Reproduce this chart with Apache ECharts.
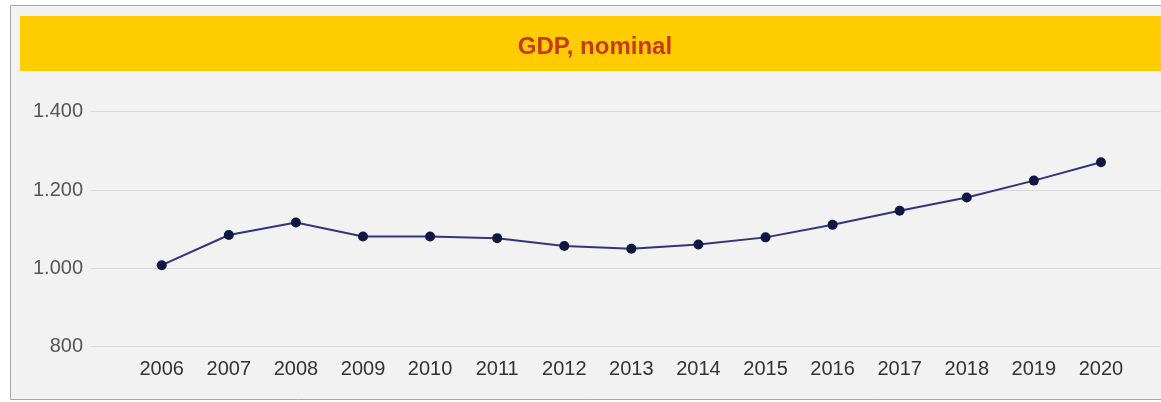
<!DOCTYPE html>
<html>
<head>
<meta charset="utf-8">
<script src="https://cdn.jsdelivr.net/npm/echarts@6/dist/echarts.min.js"></script>
<style>
  html, body { margin: 0; padding: 0; background: #fff; }
  #chart { width: 1161px; height: 402px; }
</style>
</head>
<body>
<div id="chart"></div>
<script>
const years = ['2006', '2007', '2008', '2009', '2010', '2011', '2012', '2013',
  '2014', '2015', '2016', '2017', '2018', '2019', '2020'];
const gdpNominal = [1008, 1085, 1117, 1081, 1081, 1077, 1057, 1050,
  1061, 1079, 1111, 1147, 1181, 1224, 1271];
const yMin = 800;
const yMax = 1400;
const yStep = 200;

const font = '"Liberation Sans", Arial, sans-serif';

// thousands with a dot, e.g. 1.400
const fmtNum = (v) => {
  if (v < 1000) return String(v);
  const rest = String(v % 1000).padStart(3, '0');
  return `${Math.floor(v / 1000)}.${rest}`;
};

const chart = echarts.init(document.getElementById('chart'));

const gridTop = 111.7;
const gridBottom = 55.4;

const opts = {
  animation: false,
  textStyle: { fontFamily: font },
  graphic: [
    {
      type: 'rect',
      z: -10,
      shape: { x: 10.5, y: 5.5, width: 1160, height: 394 },
      style: { fill: '#f2f2f2', stroke: '#a8a8a8', lineWidth: 1 },
    },
    {
      type: 'rect',
      z: -9,
      shape: { x: 20, y: 16, width: 1141, height: 55 },
      style: { fill: '#ffcc00' },
    },
  ],
  title: {
    text: 'GDP, nominal',
    left: 590,
    top: 30,
    textAlign: 'center',
    textStyle: {
      color: '#c83a14',
      fontSize: 24,
      fontWeight: 'bold',
      fontFamily: font,
    },
  },
  grid: [
    // wide grid for the split lines and y labels
    { left: 90, right: 0, top: gridTop, bottom: gridBottom },
    // narrower grid where the categories sit
    { left: 128.2, right: 26.5, top: gridTop, bottom: gridBottom },
  ],
  xAxis: [
    {
      gridIndex: 0,
      type: 'category',
      data: years,
      show: false,
    },
    {
      gridIndex: 1,
      type: 'category',
      data: years,
      axisLine: { show: false },
      axisTick: { show: false },
      axisLabel: {
        color: '#333',
        fontSize: 20,
        fontFamily: font,
        margin: 13,
        interval: 0,
      },
    },
  ],
  yAxis: [
    {
      gridIndex: 0,
      type: 'value',
      min: yMin,
      max: yMax,
      interval: yStep,
      axisLine: { show: false },
      axisTick: { show: false },
      axisLabel: {
        color: '#555',
        fontSize: 20,
        fontFamily: font,
        margin: 7,
        formatter: fmtNum,
      },
      splitLine: { lineStyle: { color: '#d9d9d9', width: 1 } },
    },
    {
      gridIndex: 1,
      type: 'value',
      min: yMin,
      max: yMax,
      interval: yStep,
      show: false,
      splitLine: { show: false },
    },
  ],
  series: [
    {
      type: 'line',
      xAxisIndex: 1,
      yAxisIndex: 1,
      data: gdpNominal,
      symbol: 'circle',
      symbolSize: 10,
      lineStyle: { color: '#35337e', width: 2 },
      itemStyle: { color: '#0d1843' },
    },
  ],
};

chart.setOption(opts);
</script>
</body>
</html>
